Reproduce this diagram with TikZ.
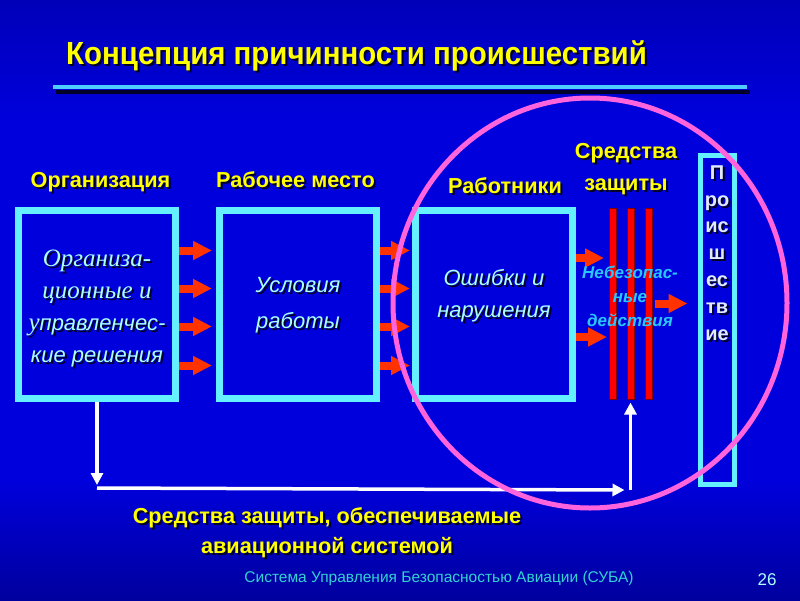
\documentclass[tikz,border=0pt]{standalone}
\usepackage{fontspec}
\setmainfont{Liberation Sans}
\newfontfamily\seriffont{Liberation Serif}
\newfontfamily\narrowfont[FakeStretch=0.92]{Liberation Sans}
\usetikzlibrary{calc,arrows.meta,positioning}

\definecolor{bgdark}{RGB}{0,0,15}
\definecolor{bglow}{RGB}{0,0,95}
\definecolor{bgmid}{RGB}{0,0,220}
\definecolor{bghigh}{RGB}{0,0,150}
\definecolor{bgtop}{RGB}{0,0,75}
\definecolor{boxblue}{RGB}{0,0,220}
\definecolor{framecyan}{RGB}{100,240,255}
\definecolor{linecyan}{RGB}{80,205,255}
\definecolor{textcyan}{RGB}{170,255,255}
\definecolor{labelyellow}{RGB}{255,255,0}
\definecolor{arrowred}{RGB}{255,50,0}
\definecolor{barred}{RGB}{255,0,0}
\definecolor{ringpink}{RGB}{255,100,220}
\definecolor{unsafecyan}{RGB}{40,200,255}
\definecolor{eventwhite}{RGB}{225,235,255}
\definecolor{footcyan}{RGB}{50,210,210}
\definecolor{shadowblue}{RGB}{0,0,40}

\pgfdeclareverticalshading{slidebg}{100bp}{color(0bp)=(bgdark); color(15bp)=(bglow);
  color(35bp)=(bgmid); color(65bp)=(bgmid); color(85bp)=(bghigh); color(100bp)=(bgtop)}

% text with a dark drop shadow: name, style, position, text
\newcommand{\shadownode}[4]{%
  \node[#2, text=shadowblue] (#1-sh) at ($(#3)+(2,2)$) {#4};
  \node[#2] (#1) at (#3) {#4};}
\newcommand{\oldstyle}{\seriffont\fontsize{25}{32}\selectfont}

\tikzset{
  frame/.style={draw=framecyan, line width=7pt, fill=boxblue, minimum width=157pt,
    minimum height=188pt, inner sep=0pt},
  boxtext/.style={text=textcyan, align=center, anchor=base,
    font=\itshape\fontsize{22}{32}\selectfont},
  heading/.style={text=labelyellow, anchor=base, font=\bfseries\fontsize{21.7}{26}\selectfont},
  redarrow/.style={draw=arrowred, line width=8pt, -{Triangle[length=19pt,width=18pt]}},
  whitearrow/.style={draw=white, line width=3.5pt, -{Triangle[length=12pt,width=12pt]}},
  barrier/.style={draw=black!50!red, line width=1pt, fill=barred, minimum width=7pt,
    minimum height=191pt, inner sep=0pt},
}

\begin{document}
\begin{tikzpicture}[x=1pt,y=-1pt]
  \shade[shading=slidebg] (0,0) rectangle (800,600);
  \useasboundingbox (0,0) rectangle (800,600);

  % title
  \shadownode{title}{heading, font=\narrowfont\bfseries\fontsize{32}{38}\selectfont}{356.5,64}{Концепция причинности происшествий}
  \draw[shadowblue, line width=4pt] (56,92) -- (750,92);
  \draw[linecyan, line width=4pt] (53,87) -- (747,87);

  % column headings
  \shadownode{orghead}{heading}{100.5,187}{Организация}
  \shadownode{workhead}{heading}{295.5,187}{Рабочее место}
  \shadownode{staffhead}{heading}{505,193}{Работники}
  \shadownode{guardhead}{heading}{626,158}{Средства}
  \shadownode{guardhead2}{heading}{626,190}{защиты}

  % boxes
  \node[frame] (org) at (97,304.5) {};
  \node[frame] (work) at (298,304.5) {};
  \node[frame] (err) at (494,304.5) {};
  \node[frame, line width=5pt, minimum width=34pt, minimum height=329pt] (event) at (717,320) {};

  \shadownode{orgtext}{boxtext}{97,362}{{\oldstyle Организа-}\\{\oldstyle ционные и}\\{\oldstyle у}правленчес-\\кие решения}
  \shadownode{worktext}{boxtext, font=\itshape\fontsize{22}{36}\selectfont}{298,328}{Условия\\работы}
  \shadownode{errtext}{boxtext}{494,317}{Ошибки и\\нарушения}
  \shadownode{eventtext}{boxtext, text=eventwhite, font=\bfseries\fontsize{20}{26.8}\selectfont}{717,340}{П\\ро\\ис\\ш\\ес\\тв\\ие}

  % barriers
  \node[barrier] (bar1) at (613,303.5) {};
  \node[barrier] (bar2) at (630.5,303.5) {};
  \node[barrier] (bar3) at (648.5,303.5) {};

  % red arrows
  \foreach \dy in {54,16,-22,-61} {
    \draw[redarrow] ([yshift=\dy pt]org.east) -- ([yshift=\dy pt,xshift=-4pt]work.west);
    \draw[redarrow] ([yshift=\dy pt]work.east) -- ([yshift=\dy pt,xshift=-2pt]err.west);
  }
  \draw[redarrow, shorten >=5pt] ([yshift=46.5pt]err.east) -- ([yshift=46.5pt]err.east -| bar1.west);
  \draw[redarrow, shorten >=2pt] ([yshift=-32.5pt]err.east) -- ([yshift=-32.5pt]err.east -| bar1.west);
  \draw[redarrow, shorten <=2pt, shorten >=10pt] (bar3.east) -- (bar3.east -| event.west);

  \node[text=unsafecyan, align=center, anchor=base,
    font=\bfseries\itshape\fontsize{17}{24}\selectfont] (unsafe) at (630,326) {Небезопас-\\ные\\действия};

  % feedback line
  \coordinate (corner) at (org.south |- 0,488);
  \coordinate (rise) at (bar2.south |- 0,490);
  \draw[whitearrow] (org.south) -- ([yshift=3pt]corner);
  \draw[whitearrow] (corner) -- ([xshift=-6pt]rise);
  \draw[whitearrow, shorten >=3pt] (rise) -- (bar2.south);

  % ring
  \draw[ringpink, line width=5pt] (590,303) ellipse [x radius=197, y radius=205];

  % bottom texts
  \shadownode{sysguard}{heading}{327,523}{Средства защиты, обеспечиваемые}
  \shadownode{sysguard2}{heading}{327,553}{авиационной системой}
  \node[text=footcyan, anchor=base, font=\fontsize{15.5}{18}\selectfont] (footer) at (439,582) {Система Управления Безопасностью Авиации (СУБА)};
  \node[text=textcyan, anchor=base, font=\fontsize{17}{20}\selectfont] (page) at (767,585) {26};
\end{tikzpicture}
\end{document}
